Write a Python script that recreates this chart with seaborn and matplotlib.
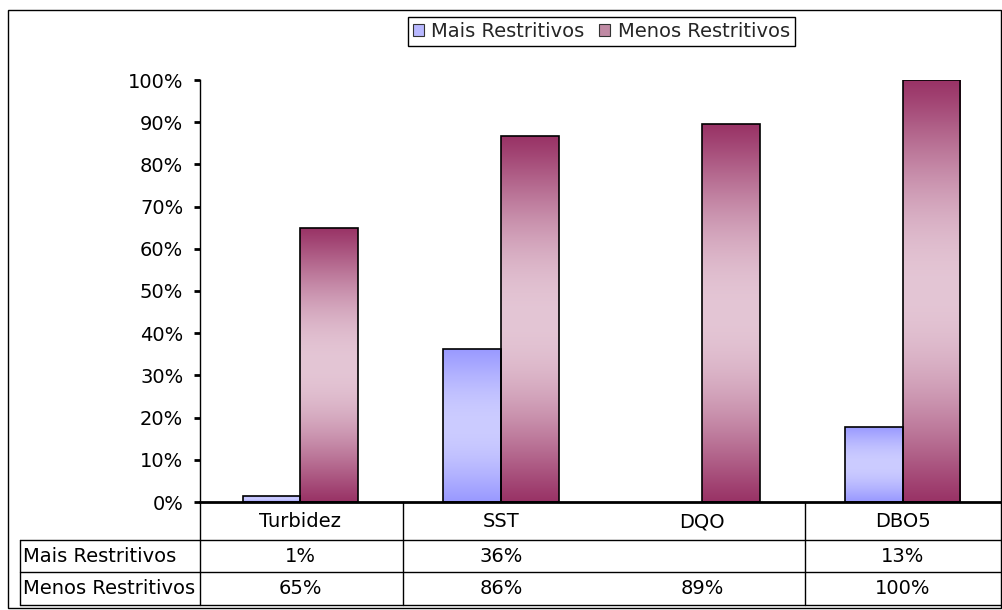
import numpy as np
import pandas as pd
import matplotlib
matplotlib.use("Agg")
import matplotlib.pyplot as plt
import seaborn as sns
from matplotlib.patches import Rectangle, Patch
from matplotlib.lines import Line2D
from matplotlib.transforms import blended_transform_factory
from matplotlib.colors import to_rgb

# ---------------- data ----------------
categories = ["Turbidez", "SST", "DQO", "DBO5"]
series = ["Mais Restritivos", "Menos Restritivos"]
mais = [1.5, 36.3, np.nan, 17.8]
menos = [65.0, 86.7, 89.5, 100.0]
mais_labels = ["1%", "36%", "", "13%"]
menos_labels = ["65%", "86%", "89%", "100%"]
yticks = list(range(0, 101, 10))
ytick_labels = [f"{v}%" for v in yticks]

# ---------------- style ----------------
sns.set_theme(style="white")
plt.rcParams['font.family'] = ['DejaVu Sans']
FS = 14

dark = {series[0]: "#9999FF", series[1]: "#993366"}
light = {series[0]: "#CCCCFF", series[1]: "#E4C6D5"}

W, H = 1003, 610
fig = plt.figure(figsize=(W / 100, H / 100), dpi=100)
fig.patch.set_facecolor("white")


def fx(px):
    return px / W


def fy(py):
    return 1 - py / H


ax = fig.add_axes([fx(200), fy(502), fx(1003) - fx(200), fy(80) - fy(502)])

df = pd.DataFrame({
    "cat": categories * 2,
    "serie": [series[0]] * len(categories) + [series[1]] * len(categories),
    "val": mais + menos,
})

sns.barplot(data=df, x="cat", y="val", hue="serie", order=categories,
            hue_order=series, width=0.575,
            palette=[dark[s] for s in series], edgecolor="black",
            linewidth=1.2, ax=ax, legend=False, saturation=1)

ax.set_xlim(-0.5, len(categories) - 0.5)
ax.set_ylim(0, 100)

# gradient fill for each bar
t = np.linspace(0, 1, 256)
f = np.sin(np.pi * t) ** 1.1
for p in list(ax.patches):
    h = p.get_height()
    if not np.isfinite(h) or h <= 0:
        continue
    fc = p.get_facecolor()[:3]
    s = series[0] if np.allclose(fc, to_rgb(dark[series[0]]), atol=0.02) else series[1]
    d = np.array(to_rgb(dark[s]))
    l = np.array(to_rgb(light[s]))
    grad = d[None, :] + (l - d)[None, :] * f[:, None]
    img = grad[:, None, :]
    x0 = p.get_x()
    w = p.get_width()
    im = ax.imshow(img, extent=(x0, x0 + w, p.get_y(), p.get_y() + h),
                   origin="lower", aspect="auto", zorder=p.get_zorder() - 0.1,
                   interpolation="bilinear")
    im.set_clip_path(p)
    p.set_facecolor("none")
    p.set_zorder(3)

ax.set_xlim(-0.5, len(categories) - 0.5)
ax.set_ylim(0, 100)
ax.set_xlabel("")
ax.set_ylabel("")
ax.tick_params(axis="y", direction="out", length=4, width=2, pad=8, colors="black",
               left=True)
ax.set_yticks(yticks)
ax.set_yticklabels(ytick_labels, fontsize=FS, color="black")
ax.set_xticks(range(len(categories)))
ax.set_xticklabels([""] * len(categories))
ax.tick_params(axis="x", length=0)
for sp in ["top", "right"]:
    ax.spines[sp].set_visible(False)
ax.spines["left"].set_color("black")
ax.spines["left"].set_linewidth(1)
ax.spines["bottom"].set_color("black")
ax.spines["bottom"].set_linewidth(2)
ax.grid(False)
ax.set_facecolor("white")

# ---------------- data table ----------------
tr = blended_transform_factory(ax.transData, fig.transFigure)
row_y = [556, 589]
for i, c in enumerate(categories):
    ax.text(i, fy(527), c, transform=tr, ha="center", va="baseline",
            fontsize=FS, color="black")
    ax.text(i, fy(row_y[0]), mais_labels[i], transform=tr, ha="center",
            va="center", fontsize=FS, color="black")
    ax.text(i, fy(row_y[1]), menos_labels[i], transform=tr, ha="center",
            va="center", fontsize=FS, color="black")
fig.text(fx(23), fy(row_y[0]), series[0], ha="left", va="center", fontsize=FS,
         color="black")
fig.text(fx(23), fy(row_y[1]), series[1], ha="left", va="center", fontsize=FS,
         color="black")


def fline(x0, y0, x1, y1, lw=1.0):
    fig.add_artist(Line2D([fx(x0), fx(x1)], [fy(y0), fy(y1)], color="black",
                          lw=lw, transform=fig.transFigure))


for yy in [540, 572, 605]:
    fline(20, yy, 1003, yy)
fline(20, 540, 20, 605)
fline(200, 502, 200, 605)
fline(403, 502, 403, 605)
fline(805, 502, 805, 605)

# outer frame
fig.add_artist(Rectangle((fx(8), fy(608)), fx(1001) - fx(8), fy(10) - fy(608),
                         transform=fig.transFigure, fill=False, edgecolor="black",
                         lw=1))

# ---------------- legend ----------------
handles = [Patch(facecolor="#B8B8FF", edgecolor="#333333", lw=0.8, label=series[0]),
           Patch(facecolor="#C08AA4", edgecolor="#333333", lw=0.8, label=series[1])]
leg = fig.legend(handles=handles, loc="upper left", bbox_to_anchor=(fx(408), fy(17)),
                 ncol=2, fontsize=FS, frameon=True, fancybox=False, framealpha=1,
                 edgecolor="black", handlelength=0.55, handleheight=0.55,
                 handletextpad=0.4, columnspacing=0.75, borderpad=0.25,
                 borderaxespad=0)
leg.get_frame().set_linewidth(1)

fig.savefig("out.png", dpi=100, facecolor="white")
